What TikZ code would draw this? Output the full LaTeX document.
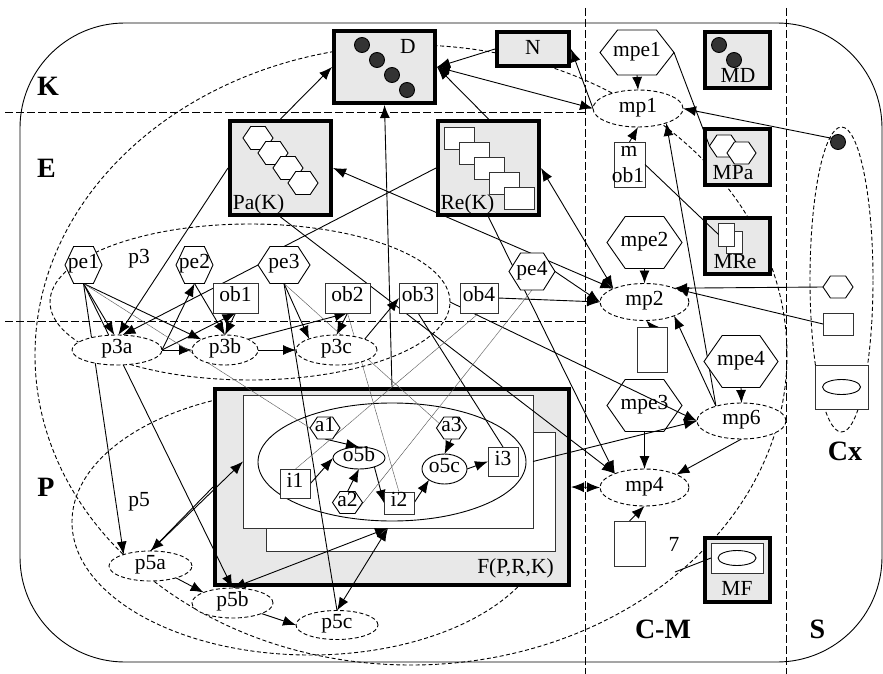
\documentclass[tikz,border=0pt]{standalone}
\usepackage{fontspec}
\setmainfont{Liberation Serif}
\usetikzlibrary{arrows.meta,shapes.geometric,shapes.symbols}
\pgfdeclarelayer{bg}
\pgfdeclarelayer{conn}
\pgfdeclarelayer{toplines}
\pgfsetlayers{bg,conn,main,toplines}
\definecolor{boxgray}{HTML}{E8E8E8}
\definecolor{darkdot}{HTML}{333333}
\newcommand\tx[1]{\makebox[0pt]{\raisebox{-0.33em}{\smash{#1}}}}
\tikzset{
  base/.style={inner sep=0pt,outer sep=0pt,line width=0.9pt},
  hx/.style args={#1/#2/#3}{base,signal,signal to=east and west,signal pointer angle=#3,
    draw,fill=white,minimum width=#1,minimum height=#2},
  rc/.style args={#1/#2}{base,rectangle,draw=black!80,fill=white,minimum width=#1,minimum height=#2},
  el/.style args={#1/#2}{base,ellipse,draw,fill=white,minimum width=#1,minimum height=#2},
  del/.style args={#1/#2}{el=#1/#2,dash pattern=on 4pt off 2.5pt},
  oval/.style args={#1/#2}{base,ellipse,draw,dash pattern=on 4pt off 2.5pt,minimum width=#1,minimum height=#2},
  bigbox/.style args={#1/#2}{inner sep=0pt,outer sep=2pt,rectangle,draw=black,line width=4pt,fill=boxgray,
    minimum width=#1-4pt,minimum height=#2-4pt},
  dot/.style={base,circle,draw=black,fill=darkdot,minimum size=15pt},
  lab/.style={inner sep=0pt,outer sep=0pt},
  zone/.style={inner sep=0pt,outer sep=0pt,font=\fontsize{28}{30}\selectfont\bfseries},
  guide/.style={line width=0.8pt,dash pattern=on 8pt off 3pt},
  ln/.style={line width=0.9pt},
  ar/.style={ln,-{Latex[length=13pt,width=10pt]}},
  dar/.style={ln,{Latex[length=13pt,width=10pt]}-{Latex[length=13pt,width=10pt]}},
  fine/.style={line width=0.5pt,draw=black!65,dash pattern=on 1.2pt off 0.4pt},
}
\begin{document}
\begin{tikzpicture}[x=1pt,y=-1pt,font=\fontsize{21.5}{23}\selectfont]
\useasboundingbox (0,0) rectangle (883,674);

\begin{pgfonlayer}{bg}
  \node[base,rectangle,draw,rounded corners=105pt,minimum width=862pt,minimum height=639pt] (frame) at (451,342.5) {};
  \draw[guide] (5,112) -- (585,112);
  \draw[guide] (5,321) -- (585,321);
  \draw[guide] (585,8) -- (585,674);
  \draw[guide] (786,8) -- (786,674);
  \node[oval=752pt/620pt] (kell) at (411,355) {};
  \node[oval=476pt/266pt] (p5e) at (310,522) {};
  \node[oval=400pt/156pt] (p3e) at (250,302) {};
  \node[oval=63pt/305pt] (cxe) at (841.5,279.5) {};
  \node[bigbox=358pt/200pt] (F) at (392,487) {};
  \node[rc=289pt/119pt] (rear) at (410.5,491.5) {};
  \node[rc=290pt/133pt] (front) at (388,461.5) {};
  \node[base,ellipse,draw,minimum width=268pt,minimum height=118pt] (inner) at (392,462) {};
  \node[lab] (Flab) at (515.5,570) {\tx{F(P,R,K)}};
  \node[hx=75pt/52pt/110] (mpe3) at (644.5,405.5) {\tx{mpe3}};
\end{pgfonlayer}

% knowledge boxes
\node[bigbox=105pt/76pt] (D) at (384.5,67) {};
\node[bigbox=76pt/38pt] (N) at (533,49) {};
\node[bigbox=105pt/98pt] (Pa) at (280.5,168) {};
\node[bigbox=105pt/98pt] (Re) at (488.5,168) {};
\node[bigbox=69pt/60pt] (MD) at (737.5,60) {};
\node[bigbox=69pt/60pt] (MPa) at (737.5,157) {};
\node[bigbox=69pt/60pt] (MRe) at (737.5,246) {};
\node[bigbox=69pt/68pt] (MF) at (737.5,570) {};

\node[lab] at (408,50) {\tx{D}};
\node[dot] (d1) at (362,45) {};
\node[dot] (d2) at (377,60) {};
\node[dot] (d3) at (392,75) {};
\node[dot] (d4) at (407,90) {};
\node[lab] at (533,51) {\tx{N}};

\node[hx=30pt/23pt/112] (pah1) at (258,138) {};
\node[hx=30pt/23pt/112] (pah2) at (273,153) {};
\node[hx=30pt/23pt/112] (pah3) at (288,168) {};
\node[hx=30pt/23pt/112] (pah4) at (303,183) {};
\node[lab] at (258.5,206) {\tx{Pa(K)}};

\node[rc=30pt/22pt] (rer1) at (459,138) {};
\node[rc=30pt/22pt] (rer2) at (474,153) {};
\node[rc=30pt/22pt] (rer3) at (489,168) {};
\node[rc=30pt/22pt] (rer4) at (504,183) {};
\node[rc=30pt/22pt] (rer5) at (519,198) {};
\node[lab] at (467.5,206) {\tx{Re(K)}};

\node[dot] (md1) at (719,45) {};
\node[dot] (md2) at (734,60) {};
\node[lab] at (738,79) {\tx{MD}};
\node[hx=29pt/22pt/112] (mpah1) at (724,146) {};
\node[hx=29pt/22pt/112] (mpah2) at (741.5,153) {};
\node[lab] at (733,176) {\tx{MPa}};
\node[rc=16pt/22pt] (mre2) at (734,242) {};
\node[rc=16pt/23pt] (mre1) at (726.5,234.5) {};
\node[lab] at (735,265) {\tx{MRe}};
\node[rc=52pt/30pt] (mfi) at (737,558) {};
\node[base,ellipse,draw,minimum width=38pt,minimum height=15pt] (mfo) at (737,558) {};
\node[lab] at (737,592) {\tx{MF}};

% process elements
\node[hx=37pt/37pt/130] (pe1) at (83.5,265) {\tx{pe1}};
\node[hx=37pt/37pt/130] (pe2) at (194.5,265) {\tx{pe2}};
\node[hx=52pt/37pt/114] (pe3) at (284,265) {\tx{pe3}};
\node[hx=46pt/37pt/116] (pe4) at (532,271.5) {\tx{pe4}};
\node[rc=45pt/30pt] (ob1) at (235.5,298) {\tx{ob1}};
\node[rc=45pt/30pt] (ob2) at (347.5,298) {\tx{ob2}};
\node[rc=38pt/30pt] (ob3) at (418,298) {\tx{ob3}};
\node[rc=38pt/30pt] (ob4) at (479,298) {\tx{ob4}};
\node[del=90pt/30pt] (p3a) at (117,350) {\tx{p3a}};
\node[del=66pt/30pt] (p3b) at (225,350) {\tx{p3b}};
\node[del=81pt/30pt] (p3c) at (336.5,350) {\tx{p3c}};
\node[del=83pt/30pt] (p5a) at (150.5,566) {\tx{p5a}};
\node[del=81pt/30pt] (p5b) at (232.5,603) {\tx{p5b}};
\node[del=82pt/29pt] (p5c) at (337,625) {\tx{p5c}};
\node[lab] at (139,260) {\tx{p3}};
\node[lab] at (139,503) {\tx{p5}};

% inside F
\node[hx=30pt/22pt/112] (a1) at (325,428) {\tx{a1}};
\node[hx=30pt/22pt/112] (a2) at (347.5,502.5) {\tx{a2}};
\node[hx=30pt/22pt/112] (a3) at (451.5,428) {\tx{a3}};
\node[el=52pt/22pt] (o5b) at (359,458) {\tx{o5b}};
\node[el=45pt/30pt] (o5c) at (444.5,469) {\tx{o5c}};
\node[rc=30pt/29pt] (i1) at (295,484) {\tx{i1}};
\node[rc=30pt/22pt] (i2) at (399,503) {\tx{i2}};
\node[rc=30pt/29pt] (i3) at (503,461.5) {\tx{i3}};

% meta processes
\node[hx=74pt/45pt/104] (mpe1) at (637,52.5) {\tx{mpe1}};
\node[del=90pt/37pt] (mp1) at (638,108.5) {\tx{mp1}};
\node[rc=31pt/45pt] (mob1) at (629.5,164.5) {};
\node[lab] at (629,153) {\tx{m}};
\node[lab] at (628,179) {\tx{ob1}};
\node[hx=75pt/52pt/110] (mpe2) at (644.5,242.5) {\tx{mpe2}};
\node[del=89pt/37pt] (mp2) at (644.5,302) {\tx{mp2}};
\node[rc=30pt/45pt] (mrec2) at (652,349.5) {};
\node[hx=74pt/52pt/110] (mpe4) at (741,361.5) {\tx{mpe4}};
\node[del=89pt/36pt] (mp6) at (741.5,421) {\tx{mp6}};
\node[del=89pt/37pt] (mp4) at (644.5,487.5) {\tx{mp4}};
\node[rc=31pt/45pt] (mrec4) at (629.5,543.5) {};
\node[lab] at (674,548) {\tx{7}};

% context
\node[dot] (cxdot) at (838,142) {};
\node[hx=30pt/22pt/112] (cxhex) at (838,287) {};
\node[rc=30pt/22pt] (cxrec) at (838,324) {};
\node[rc=53pt/44pt] (cxbox) at (841.5,387) {};
\node[base,ellipse,draw,minimum width=38pt,minimum height=15pt] (cxo) at (841.5,387) {};

\node[zone] at (48,91) {\tx{K}};
\node[zone] at (46.5,173) {\tx{E}};
\node[zone] at (46,492) {\tx{P}};
\node[zone] at (845,456) {\tx{Cx}};
\node[zone] at (663,634) {\tx{C-M}};
\node[zone] at (817.5,634) {\tx{S}};

\coordinate (mfend) at (675,572);

\begin{pgfonlayer}{conn}
  % upper part
  \draw[ar] (Pa.north) -- (D.west);
  \draw[ar] (Re.north) -- (D.east);
  \draw[ar] (N.west) -- (D.east);
  \draw[dar] (mp1.west) -- (D.east);
  \draw[ar] (mp1.west) -- (N.east);
  \draw[ar] (F.north) -- (D.south);
  \draw[ar] (Pa.west) -- (p3a.85);
  \draw[ln] (Re.west) -- (pe3.north);
  \draw[ar] (pe3.west) -- (p3a.70);
  \draw[ar] (Pa.south) -- (mp4.155);
  \draw[ar] (Re.south) -- (mp4.155);
  \draw[dar] (Pa.east) -- (mp2.157);
  \draw[dar] (Re.east) -- (mp2.157);
  \draw[ar] (pe4.east) -- (mp2.west);
  \draw[ar] (ob4.east) -- (mp2.west);
  % pe1 fan
  \draw[ar] (pe1.south) -- (p3a.100);
  \draw[ar] (pe1.south) -- (p3b.156);
  \draw[ar] (pe1.south) -- (p5a.157);
  \draw[ar] (pe1.south) -- (p5b.north);
  % p3 row
  \draw[ar] (p3a.east) -- (p3b.west);
  \draw[ar] (p3b.east) -- (p3c.west);
  \draw[ar] (p3a.east) -- (pe2.south);
  \draw[ar] (pe2.south) -- (p3b.north);
  \draw[ar] (p3a.east) -- (ob1.south);
  \draw[ar] (ob1.south) -- (p3b.north);
  \draw[ar] (p3b.25) -- (ob2.south);
  \draw[ar] (ob2.south) -- (p3c.north);
  \draw[ar] (pe3.south) -- (p3c.158);
  \draw[ln] (pe3.south) -- (p5c.north);
  \draw[ar] (p3c.21) -- (ob3.west);
  \draw[ln] (ob3.south) -- (i3.north);
  \draw[ar] (p3e.east) -- (mp6.west);
  \draw[ar] (front.east) -- (mp6.west);
  % meta
  \draw[ar] (mp6.150) -- (mp2.-25);
  \draw[ar] (mp6.150) -- (mp1.-27);
  \draw[ar] (mp6.south) -- (mp4.22);
  \draw[ar] (mpe1.south) -- (mp1.north);
  \draw[ar] (mpe2.south) -- (mp2.north);
  \draw[ar] (mpe3.south) -- (mp4.north);
  \draw[ar] (mpe4.south) -- (mp6.north);
  \draw[ar] (mrec2.north) -- (mp2.-85);
  \draw[ar] (mrec4.north) -- (mp4.south);
  \draw[ar] (mob1.north) -- (mp1.south);
  \draw[ar] (cxdot.150) -- (mp1.east);
  \draw[ar] (cxhex.west) -- (mp2.25);
  \draw[ar] (cxrec.west) -- (mp2.23);
  \draw[dar] (F.east) -- (mp4.west);
  % P zone
  \draw[dar] (p5a.north) -- (front.west);
  \draw[ln] (p5a.north) -- (F.west);
  \draw[dar] (p5b.north) -- (front.south);
  \draw[dar] (p5c.north) -- (front.south);
  \draw[ar] (p5a.-25) -- (p5b.160);
  \draw[ar] (p5b.-20) -- (p5c.west);
  % inside F
  \draw[ar] (a1.south) -- (o5b.north);
  \draw[ar] (a2.north) -- (o5b.south);
  \draw[ar] (a3.south) -- (o5c.north);
  \draw[ar] (i1.east) -- (o5b.west);
  \draw[ar] (o5b.-30) -- (i2.west);
  \draw[ar] (i2.east) -- (o5c.215);
  \draw[ar] (o5c.east) -- (i3.west);
  % fine lines
  \draw[fine] (pe1.south) -- (a1.west);
  \draw[fine] (pe3.south) -- (a3.160);
  \draw[fine] (ob2.south) -- (i2.north);
  \draw[fine] (ob4.south) -- (i1.north);
  \draw[fine] (pe4.south) -- (a2.-40);
\end{pgfonlayer}

\begin{pgfonlayer}{toplines}
  \draw[ln] (mpe1.east) -- (mpah1.west);
  \draw[ln] (mob1.east) -- (mre1.west);
  \draw[ln] (mfi.west) -- (mfend);
\end{pgfonlayer}
\end{tikzpicture}
\end{document}
